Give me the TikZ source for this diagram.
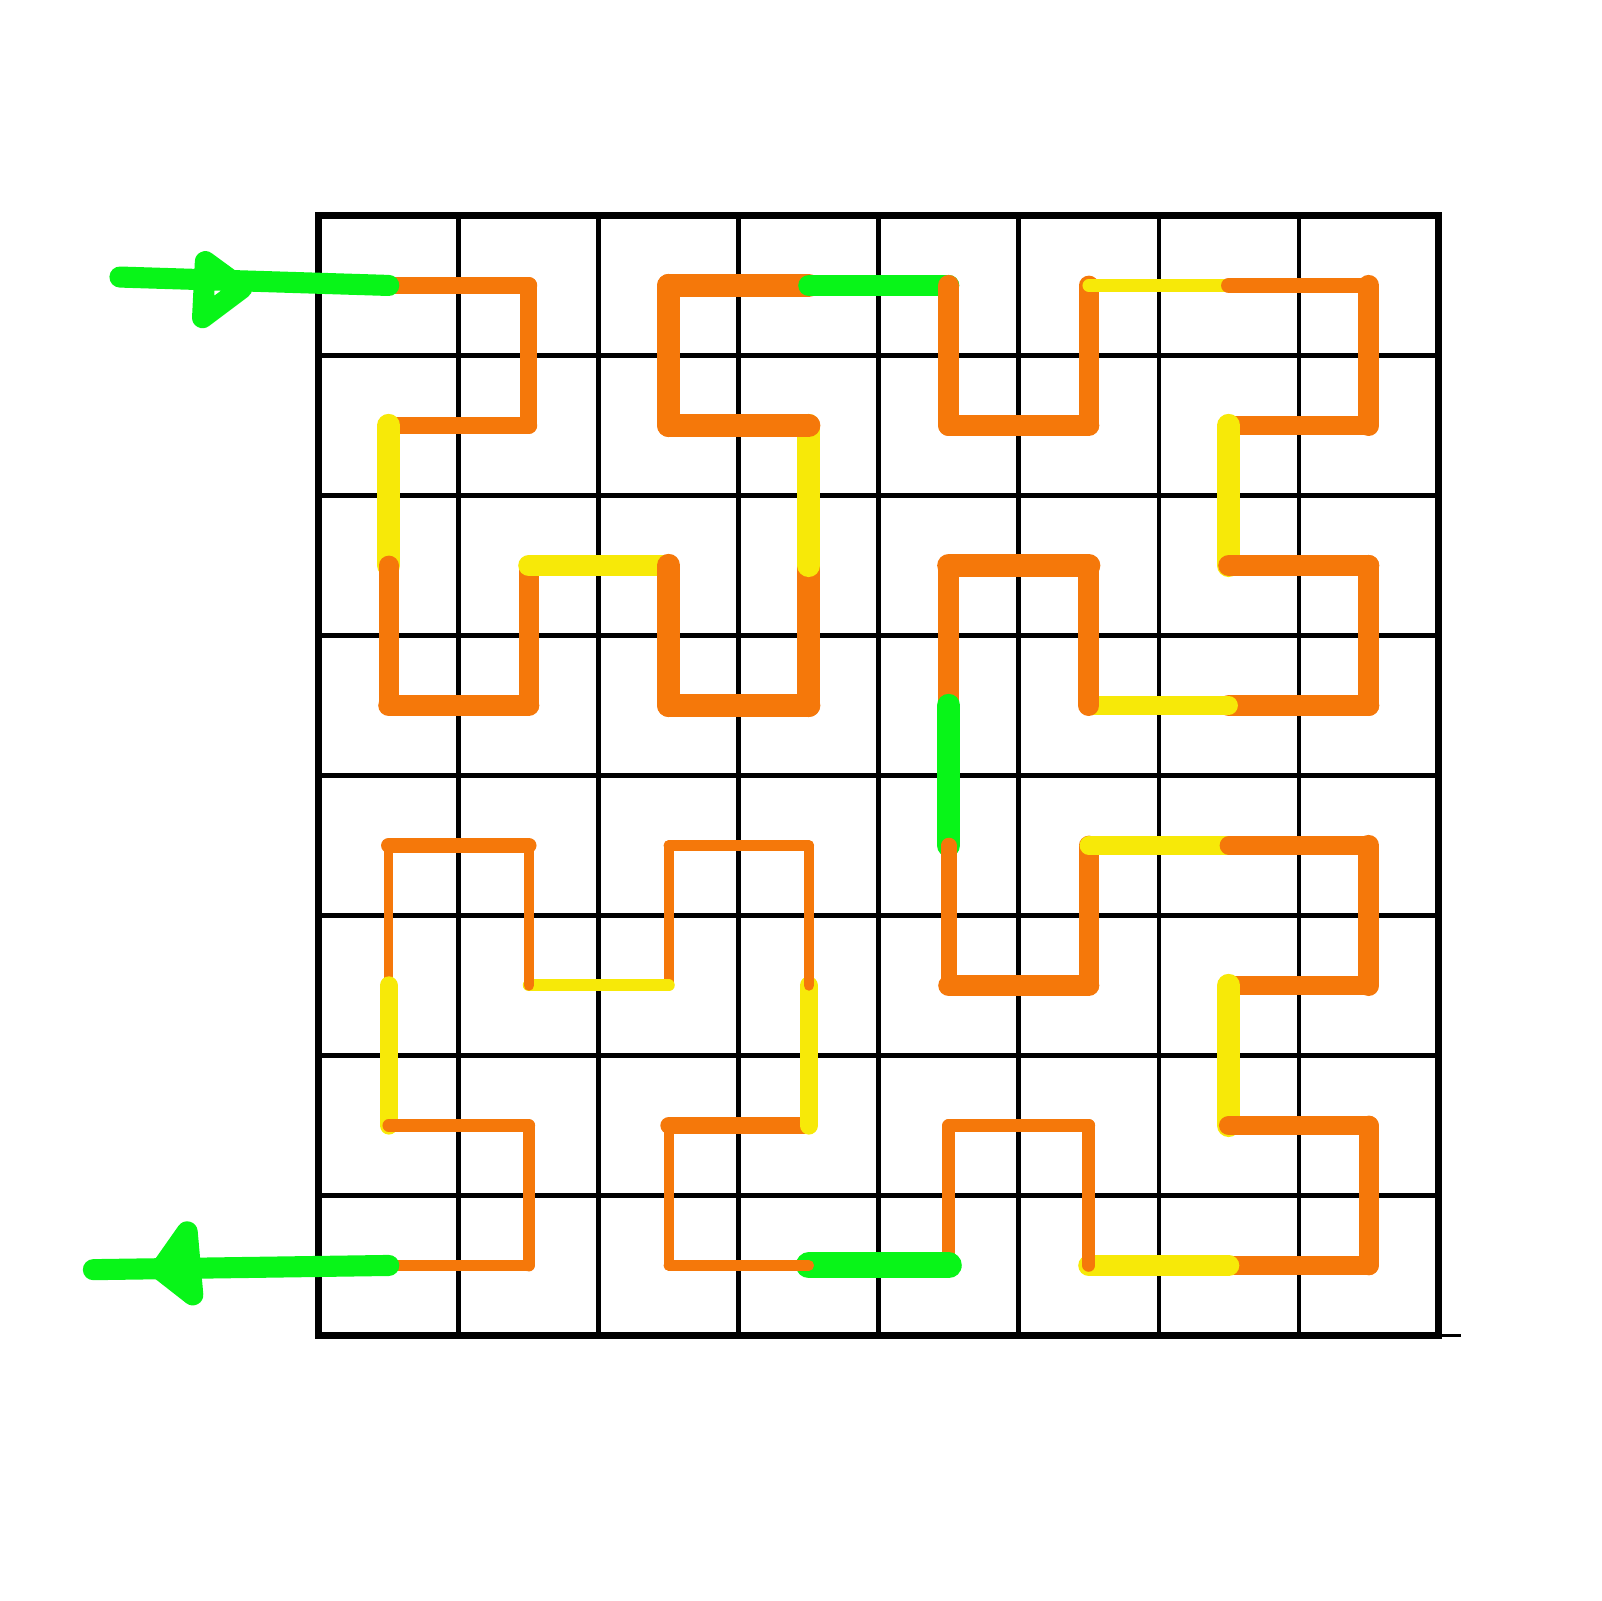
\documentclass[tikz,border=0pt]{standalone}
\usepackage{tikz}

\begin{document}
\begin{tikzpicture}[x=1.4cm,y=1.4cm,
    gridline/.style={line width=1.3pt},
    curve/.style={line cap=round,line join=round}]
  \definecolor{ho}{RGB}{245,120,10}
  \definecolor{hy}{RGB}{247,233,8}
  \definecolor{hg}{RGB}{8,245,24}
  \newcommand{\hseg}[4]{% from, to, colour, width
    \draw[curve,#3,line width=#4] (#1) -- (#2);}
  \useasboundingbox (-2.277,-1.89) rectangle (9.166,9.539);

  % grid
  \foreach \i in {1,...,7} {
    \draw[gridline] (\i,0) -- (\i,8);
    \draw[gridline] (0,\i) -- (8,\i);}
  \draw[line width=1.9pt] (0,0) rectangle (8,8);
  \draw[line width=0.6pt] (8,0) -- (8.16,0);

  % cell centres, column then row from the top
  \foreach \c in {0,...,7}
    \foreach \r in {0,...,7}
      \coordinate (p\c\r) at (\c+0.5,7.5-\r);

  % upper left quarter
  \foreach \a/\b/\col/\w in {00/10/ho/4.8pt, 10/11/ho/4.8pt, 11/01/ho/4.8pt, 01/02/hy/6.6pt,
      02/03/ho/5.6pt, 03/13/ho/6.0pt, 13/12/ho/5.6pt, 12/22/hy/6.0pt,
      22/23/ho/6.6pt, 23/33/ho/6.6pt, 33/32/ho/6.6pt, 32/31/hy/6.6pt,
      31/21/ho/6.6pt, 21/20/ho/6.6pt, 20/30/ho/6.6pt, 30/40/hg/6.0pt}
    {\hseg{p\a}{p\b}{\col}{\w}}
  % upper right quarter
  \foreach \a/\b/\col/\w in {40/41/ho/6.0pt, 41/51/ho/6.0pt, 51/50/ho/5.6pt, 50/60/hy/3.6pt,
      60/70/ho/4.4pt, 70/71/ho/6.0pt, 71/61/ho/5.6pt, 61/62/hy/6.6pt,
      62/72/ho/6.0pt, 72/73/ho/6.0pt, 73/63/ho/6.0pt, 63/53/hy/5.2pt,
      53/52/ho/6.0pt, 52/42/ho/6.6pt, 42/43/ho/6.0pt, 43/44/hg/6.6pt}
    {\hseg{p\a}{p\b}{\col}{\w}}
  % lower right quarter
  \foreach \a/\b/\col/\w in {44/45/ho/4.4pt, 45/55/ho/6.0pt, 55/54/ho/5.6pt, 54/64/hy/5.2pt,
      64/74/ho/5.2pt, 74/75/ho/6.0pt, 75/65/ho/5.6pt, 65/66/hy/6.6pt,
      66/76/ho/5.6pt, 76/77/ho/5.6pt, 77/67/ho/5.6pt, 67/57/hy/6.0pt,
      57/56/ho/3.6pt, 56/46/ho/3.6pt, 46/47/ho/3.6pt, 47/37/hg/7.4pt}
    {\hseg{p\a}{p\b}{\col}{\w}}
  % lower left quarter
  \foreach \a/\b/\col/\w in {37/27/ho/3.0pt, 27/26/ho/3.0pt, 26/36/ho/4.8pt, 36/35/hy/5.2pt,
      35/34/ho/3.0pt, 34/24/ho/3.0pt, 24/25/ho/3.0pt, 25/15/hy/3.4pt,
      15/14/ho/3.0pt, 14/04/ho/4.4pt, 04/05/ho/2.6pt, 05/06/hy/5.2pt,
      06/16/ho/3.6pt, 16/17/ho/3.4pt, 17/07/ho/3.0pt}
    {\hseg{p\a}{p\b}{\col}{\w}}

  % way in and way out
  \coordinate (in) at (-1.42,7.56);
  \coordinate (in a) at (-0.81,7.67);
  \coordinate (in tip) at (-0.55,7.48);
  \coordinate (in b) at (-0.83,7.27);
  \coordinate (out) at (-1.61,0.47);
  \coordinate (out a) at (-0.94,0.74);
  \coordinate (out tip) at (-1.13,0.47);
  \coordinate (out b) at (-0.90,0.29);
  \draw[curve,hg,line width=6pt] (in) -- (p00);
  \draw[curve,hg,line width=6pt] (in a) -- (in tip) -- (in b) -- cycle;
  \draw[curve,hg,line width=6pt] (p07) -- (out);
  \draw[curve,hg,line width=6pt] (out a) -- (out tip) -- (out b) -- cycle;
\end{tikzpicture}
\end{document}
